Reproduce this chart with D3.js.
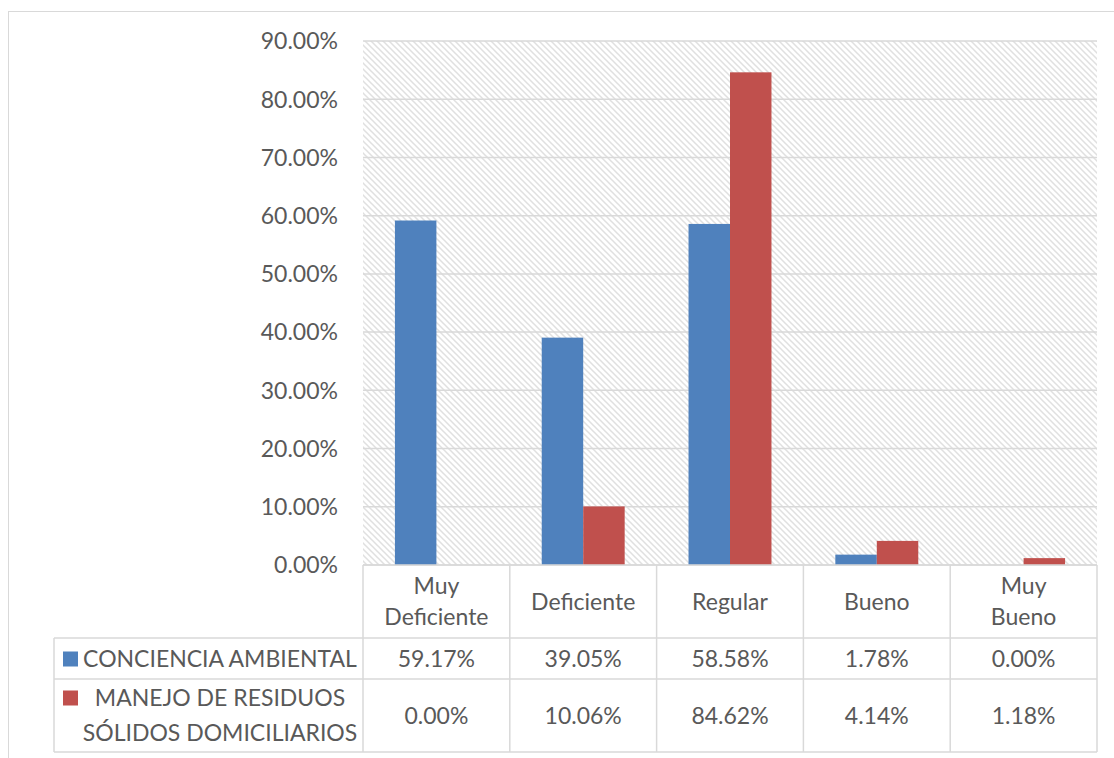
<!DOCTYPE html>
<html>
<head>
<meta charset="utf-8">
<script src="https://cdn.jsdelivr.net/npm/d3@7/dist/d3.min.js"></script>
<style>
  html, body { margin: 0; padding: 0; background: #fff; }
  svg { display: block; }
  text { font-family: Lato, "Open Sans", sans-serif; fill: #595959; }
</style>
</head>
<body>
<svg id="chart" width="1114" height="758"></svg>
<script>
const categories = ["Muy Deficiente", "Deficiente", "Regular", "Bueno", "Muy Bueno"];
const categoryLines = [["Muy", "Deficiente"], ["Deficiente"], ["Regular"], ["Bueno"], ["Muy", "Bueno"]];
const seriesNames = ["CONCIENCIA AMBIENTAL", "MANEJO DE RESIDUOS SÓLIDOS DOMICILIARIOS"];
const seriesLabelLines = [["CONCIENCIA AMBIENTAL"], ["MANEJO DE RESIDUOS", "SÓLIDOS DOMICILIARIOS"]];
const concienciaValues = [0.5917, 0.3905, 0.5858, 0.0178, 0.0000];
const manejoValues = [0.0000, 0.1006, 0.8462, 0.0414, 0.0118];
const seriesColors = ["#4f81bd", "#c0504d"];
const yTicks = [0, 0.1, 0.2, 0.3, 0.4, 0.5, 0.6, 0.7, 0.8, 0.9];

const series = [concienciaValues, manejoValues];
const fmt = d3.format(".2%");
const svg = d3.select("#chart");
const FS = 23;

const plotL = 363, plotR = 1097, plotT = 41, plotB = 565;
const tableL = 54, row1B = 638, row2B = 679, row3B = 752;

// outer border
svg.append("rect").attr("x", 8.5).attr("y", 11.5).attr("width", 1120).attr("height", 760)
  .attr("fill", "none").attr("stroke", "#d9d9d9").attr("stroke-width", 1);

// pattern
const defs = svg.append("defs");
const pat = defs.append("pattern").attr("id", "diag").attr("patternUnits", "userSpaceOnUse")
  .attr("width", 6).attr("height", 6);
pat.append("rect").attr("width", 6).attr("height", 6).attr("fill", "#fff");
pat.append("path").attr("d", "M-1,-1 L7,7 M-4,2 L2,8 M2,-4 L8,2")
  .attr("stroke", "#e0e0e0").attr("stroke-width", 1.5);

const y = d3.scaleLinear().domain([0, 0.9]).range([plotB, plotT]);
const x = d3.scaleBand().domain(categories).range([plotL, plotR]).paddingInner(0).paddingOuter(0);
const groupFrac = 0.565;
const x1 = d3.scaleBand().domain([0, 1]).range([0, x.bandwidth() * groupFrac]);

svg.append("rect").attr("x", plotL).attr("y", plotT).attr("width", plotR - plotL).attr("height", plotB - plotT)
  .attr("fill", "url(#diag)");

// gridlines
svg.append("g").selectAll("line").data(yTicks).join("line")
  .attr("x1", plotL).attr("x2", plotR)
  .attr("y1", d => y(d)).attr("y2", d => y(d))
  .attr("stroke", "#d9d9d9").attr("stroke-width", 1.5);

// y tick labels
svg.append("g").selectAll("text").data(yTicks).join("text")
  .attr("x", 338).attr("y", d => y(d)).attr("dy", "0.36em")
  .attr("text-anchor", "end").attr("font-size", FS)
  .text(d => fmt(d));

// bars
const groupOffset = (x.bandwidth() - x.bandwidth() * groupFrac) / 2;
series.forEach((vals, si) => {
  svg.append("g").selectAll("rect").data(vals).join("rect")
    .attr("x", (d, i) => x(categories[i]) + groupOffset + x1(si))
    .attr("width", x1.bandwidth())
    .attr("y", d => y(d))
    .attr("height", d => y(0) - y(d))
    .attr("fill", seriesColors[si]);
});

// table lines
const tl = svg.append("g").attr("stroke", "#d9d9d9").attr("stroke-width", 1.5);
tl.append("line").attr("x1", plotL).attr("x2", plotR).attr("y1", plotB).attr("y2", plotB);
[row1B, row2B, row3B].forEach(yy => {
  tl.append("line").attr("x1", tableL).attr("x2", plotR).attr("y1", yy).attr("y2", yy);
});
const colEdges = categories.map(c => x(c)).concat([plotR]);
colEdges.forEach(xx => {
  tl.append("line").attr("x1", xx).attr("x2", xx).attr("y1", plotB).attr("y2", row3B);
});
tl.append("line").attr("x1", tableL).attr("x2", tableL).attr("y1", row1B).attr("y2", row3B);

// header labels
categories.forEach((c, i) => {
  const lines = categoryLines[i];
  const cx = x(c) + x.bandwidth() / 2;
  const cy = (plotB + row1B) / 2;
  const lh = 31;
  lines.forEach((ln, j) => {
    svg.append("text").attr("x", cx).attr("y", cy + (j - (lines.length - 1) / 2) * lh)
      .attr("dy", "0.36em").attr("text-anchor", "middle").attr("font-size", FS).text(ln);
  });
});

// values rows
const rowMid = [(row1B + row2B) / 2, (row2B + row3B) / 2];
series.forEach((vals, si) => {
  svg.append("g").selectAll("text").data(vals).join("text")
    .attr("x", (d, i) => x(categories[i]) + x.bandwidth() / 2)
    .attr("y", rowMid[si]).attr("dy", "0.36em")
    .attr("text-anchor", "middle").attr("font-size", FS)
    .text(d => fmt(d));
});

// legend labels
seriesLabelLines.forEach((lines, si) => {
  const cy = rowMid[si];
  const lh = 35;
  svg.append("rect").attr("x", 63).attr("width", 15).attr("height", 15)
    .attr("y", si === 0 ? cy - 7 : cy - lh / 2 - 7.5)
    .attr("fill", seriesColors[si]);
  lines.forEach((ln, j) => {
    svg.append("text").attr("x", 220).attr("y", cy + (j - (lines.length - 1) / 2) * lh)
      .attr("dy", "0.36em").attr("text-anchor", "middle").attr("font-size", FS).text(ln);
  });
});
</script>
</body>
</html>
